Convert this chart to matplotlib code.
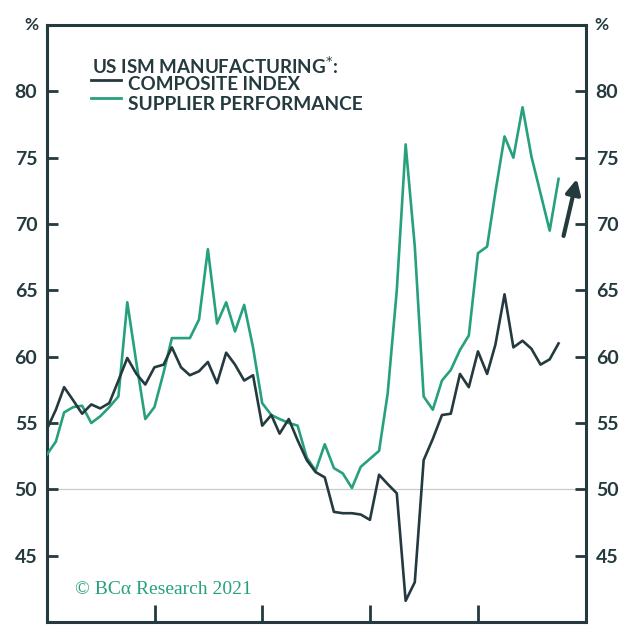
import matplotlib
matplotlib.use("Agg")
import matplotlib.pyplot as plt
import pandas as pd

# ---- data (monthly, month-end, Dec 2016 .. Sep 2021) ----
dates = pd.date_range("2016-12-31", periods=58, freq="ME")
composite = [54.5, 56.0, 57.7, 56.7, 55.7, 56.4, 56.1, 56.5, 58.2, 59.9, 58.7, 57.9, 59.2,
             59.4, 60.7, 59.2, 58.6, 58.9, 59.6, 58.0, 60.3, 59.4, 58.2, 58.6, 54.8,
             55.6, 54.2, 55.3, 53.7, 52.2, 51.3, 50.9, 48.3, 48.2, 48.2, 48.1, 47.7,
             51.1, 50.4, 49.7, 41.6, 43.0, 52.2, 53.8, 55.6, 55.7, 58.7, 57.7, 60.4,
             58.7, 60.9, 64.7, 60.7, 61.2, 60.6, 59.4, 59.8, 61.0]
supplier = [52.6, 53.6, 55.8, 56.2, 56.3, 55.0, 55.5, 56.2, 57.0, 64.1, 59.5, 55.3, 56.2,
            58.8, 61.4, 61.4, 61.4, 62.8, 68.1, 62.5, 64.1, 61.9, 63.9, 60.7, 56.5,
            55.6, 55.3, 55.0, 54.8, 52.4, 51.4, 53.4, 51.6, 51.2, 50.1, 51.7, 52.3,
            52.9, 57.2, 65.0, 76.0, 68.3, 57.0, 56.0, 58.2, 59.0, 60.5, 61.6, 67.8,
            68.3, 72.4, 76.6, 75.0, 78.8, 75.1, 72.3, 69.5, 73.4]
yticks = [45, 50, 55, 60, 65, 70, 75, 80]
year_ticks = pd.to_datetime(["2018-01-01", "2019-01-01", "2020-01-01", "2021-01-01"])

DARK = "#243a3e"
GREEN = "#27a07e"

fig = plt.figure(figsize=(6.3, 6.38), dpi=100)
ax = fig.add_axes([47/630, 1-622/638, (586-47)/630, (622-25)/638])

ax.axhline(50, color="#c8cccc", lw=0.9, zorder=1)
ax.plot(dates, supplier, color=GREEN, lw=1.9, zorder=3)
ax.plot(dates, composite, color=DARK, lw=1.9, zorder=4)

ax.set_xlim(pd.Timestamp("2017-01-01"), pd.Timestamp("2022-01-01"))
ax.set_ylim(40, 85)

for s in ax.spines.values():
    s.set_color(DARK)
    s.set_linewidth(2.2)

ax.set_xticks(year_ticks)
ax.set_xticklabels([])
ax.tick_params(axis="x", direction="in", length=12, width=2, color=DARK)
ax.set_yticks(yticks)
ax.tick_params(axis="y", direction="in", length=8, width=2, color=DARK,
               left=True, right=True, labelleft=True, labelright=True,
               labelsize=14, labelcolor=DARK, pad=7)
for lab in ax.get_yticklabels():
    lab.set_fontfamily("Lato")
    lab.set_fontweight("bold")

# percent signs
fig.text(31/630, 1-25/638, "%", ha="center", va="center", fontsize=12.5,
         color=DARK, family="Lato", weight="bold")
fig.text(601/630, 1-25/638, "%", ha="center", va="center", fontsize=12.5,
         color=DARK, family="Lato", weight="bold")

# legend / title
fig.text(92/630, 1-66/638, "US ISM MANUFACTURING$^{*}$:", ha="left", va="center",
         fontsize=13.5, color=DARK, family="Lato", weight="bold")
fig.text(128/630, 1-85/638, "COMPOSITE INDEX", ha="left", va="center",
         fontsize=13.5, color=DARK, family="Lato", weight="bold")
fig.text(128/630, 1-104/638, "SUPPLIER PERFORMANCE", ha="left", va="center",
         fontsize=13.8, color=DARK, family="Lato", weight="bold")
fig.lines.append(plt.Line2D([91/630, 121/630], [1-80/638, 1-80/638],
                            transform=fig.transFigure, color=DARK, lw=2))
fig.lines.append(plt.Line2D([91/630, 121/630], [1-98/638, 1-98/638],
                            transform=fig.transFigure, color=GREEN, lw=2))

# copyright
fig.text(75/630, 1-589/638, "© BCα Research 2021", ha="left", va="center",
         fontsize=14, color=GREEN, family="Liberation Serif")

# arrow
ax.annotate("", xy=(pd.Timestamp("2021-12-01"), 73.4),
            xytext=(pd.Timestamp("2021-10-17"), 69.1),
            arrowprops=dict(arrowstyle="-|>", color=DARK, lw=3, mutation_scale=22,
                            shrinkA=0, shrinkB=0))

fig.savefig("out.png", dpi=100)
